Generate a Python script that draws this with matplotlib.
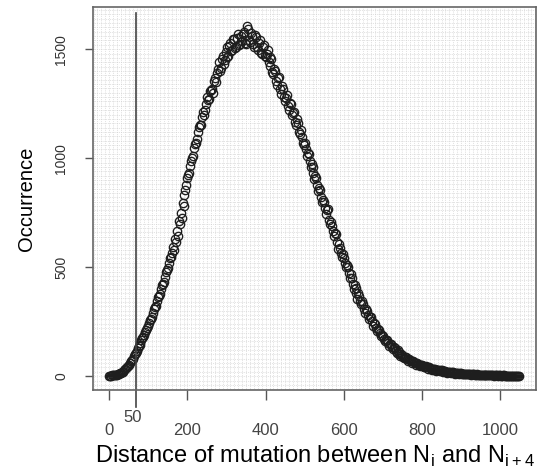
import numpy as np
import matplotlib
matplotlib.use("Agg")
import matplotlib.pyplot as plt
from matplotlib.ticker import MultipleLocator

# Data: two interleaved samplings of the point cloud
distance_a = np.arange(0, 1050, 5)
occurrence_a = [
    1, 2, 4, 3, 7, 9, 16, 21, 31, 42,
    50, 68, 80, 103, 116, 138, 150, 173, 187, 214,
    228, 259, 272, 308, 324, 361, 378, 416, 434, 476,
    497, 541, 563, 577, 615, 641, 697, 724, 781, 852,
    909, 931, 988, 1012, 1067, 1086, 1141, 1152, 1213, 1220,
    1281, 1270, 1312, 1301, 1368, 1392, 1441, 1412, 1470, 1452,
    1509, 1471, 1530, 1495, 1548, 1512, 1571, 1523, 1538, 1580,
    1522, 1594, 1531, 1562, 1510, 1556, 1498, 1541, 1476, 1520,
    1462, 1498, 1421, 1455, 1388, 1402, 1335, 1372, 1296, 1318,
    1262, 1290, 1221, 1248, 1205, 1166, 1180, 1122, 1130, 1068,
    1070, 1012, 1021, 960, 958, 905, 911, 848, 852, 798,
    801, 746, 768, 699, 688, 642, 650, 583, 590, 548,
    541, 500, 502, 448, 452, 398, 406, 355, 367, 330,
    332, 292, 299, 261, 270, 231, 240, 206, 212, 182,
    186, 160, 165, 140, 148, 124, 130, 106, 110, 93,
    96, 82, 88, 71, 75, 61, 66, 52, 58, 47,
    51, 41, 46, 35, 38, 29, 33, 25, 28, 23,
    26, 19, 23, 16, 19, 14, 17, 12, 15, 11,
    13, 9, 12, 8, 10, 7, 9, 6, 8, 5,
    7, 4, 6, 4, 5, 3, 5, 2, 4, 2,
    3, 2, 3, 1, 2, 1, 2, 0, 2, 1,
]
distance_b = np.arange(2.5, 1050, 5)
occurrence_b = [
    2, 3, 5, 6, 10, 14, 19, 27, 36, 48,
    60, 72, 93, 108, 128, 142, 164, 180, 201, 220,
    246, 264, 292, 318, 345, 367, 398, 422, 455, 486,
    518, 548, 592, 630, 668, 712, 748, 795, 832, 878,
    925, 962, 1000, 1045, 1071, 1118, 1150, 1188, 1196, 1250,
    1265, 1306, 1318, 1352, 1348, 1410, 1398, 1455, 1430, 1488,
    1462, 1515, 1490, 1546, 1505, 1552, 1518, 1560, 1570, 1528,
    1605, 1540, 1575, 1526, 1563, 1508, 1530, 1482, 1511, 1470,
    1478, 1440, 1462, 1396, 1410, 1352, 1366, 1318, 1330, 1280,
    1275, 1240, 1255, 1198, 1210, 1150, 1160, 1112, 1098, 1060,
    1042, 1025, 985, 972, 930, 918, 875, 862, 822, 808,
    772, 760, 715, 708, 665, 658, 615, 605, 566, 560,
    520, 512, 475, 470, 425, 420, 380, 383, 345, 343,
    310, 306, 282, 272, 252, 242, 222, 218, 196, 190,
    171, 168, 151, 149, 134, 132, 116, 118, 101, 100,
    89, 88, 77, 78, 68, 68, 60, 60, 53, 51,
    46, 44, 40, 40, 35, 35, 31, 30, 27, 26,
    23, 22, 20, 19, 18, 17, 16, 15, 14, 13,
    12, 11, 10, 10, 9, 8, 8, 7, 7, 6,
    6, 5, 5, 4, 4, 4, 3, 3, 3, 3,
    2, 3, 2, 2, 1, 2, 1, 1, 0, 1,
]
x_ticks = [0, 200, 400, 600, 800, 1000]
y_ticks = [0, 500, 1000, 1500]
cutoff_label = "50"
cutoff_line_x = 68   # where the marker line sits in the picture
cutoff_text_x = 59

plt.rcParams['font.family'] = ['Liberation Sans', 'DejaVu Sans']

fig = plt.figure(figsize=(5.45, 4.74), dpi=100)
ax = fig.add_axes([0.171, 0.177, 0.812, 0.808])

for d, o in [(distance_a, occurrence_a), (distance_b, occurrence_b)]:
    ax.plot(d, o, linestyle='none', marker='o', markersize=6,
            markerfacecolor='none', markeredgecolor='#1e1e1e', markeredgewidth=0.95)

ax.set_xlim(-41, 1091)
ax.set_ylim(-64, 1693)

ax.set_xticks(x_ticks)
ax.set_yticks(y_ticks)
ax.xaxis.set_minor_locator(MultipleLocator(10))
ax.yaxis.set_minor_locator(MultipleLocator(20))
ax.grid(which='both', color='#c8c8c8', linestyle=':', linewidth=0.5)
ax.set_axisbelow(True)
ax.tick_params(which='minor', length=0)
ax.tick_params(axis='x', which='major', direction='out', length=7, width=1,
               color='#555555', labelsize=12, labelcolor='#444444', pad=17)
ax.tick_params(axis='y', which='major', direction='out', length=6, width=1,
               color='#555555', labelsize=10, labelcolor='#333333', pad=12)
for lab in ax.get_yticklabels():
    lab.set_rotation(90)
    lab.set_va('center')

for s in ax.spines.values():
    s.set_color('#666666')
    s.set_linewidth(1.2)

ax.set_xlabel(r"Distance of mutation between N$_\mathregular{i}$ and N$_\mathregular{i+4}$",
              fontsize=17, labelpad=4)
ax.set_ylabel("Occurrence", fontsize=14.5, labelpad=13)

# vertical marker line reaching below the axes, plus its label
ax.axvline(cutoff_line_x, ymin=-0.045, ymax=0.985, color='#444444', linewidth=1.2, clip_on=False)
ax.annotate(cutoff_label, xy=(cutoff_text_x, 0), xycoords=('data', 'axes fraction'),
            xytext=(0, -20), textcoords='offset points',
            ha='center', va='center', fontsize=12, color='#444444')

fig.savefig("out.png", dpi=100)
